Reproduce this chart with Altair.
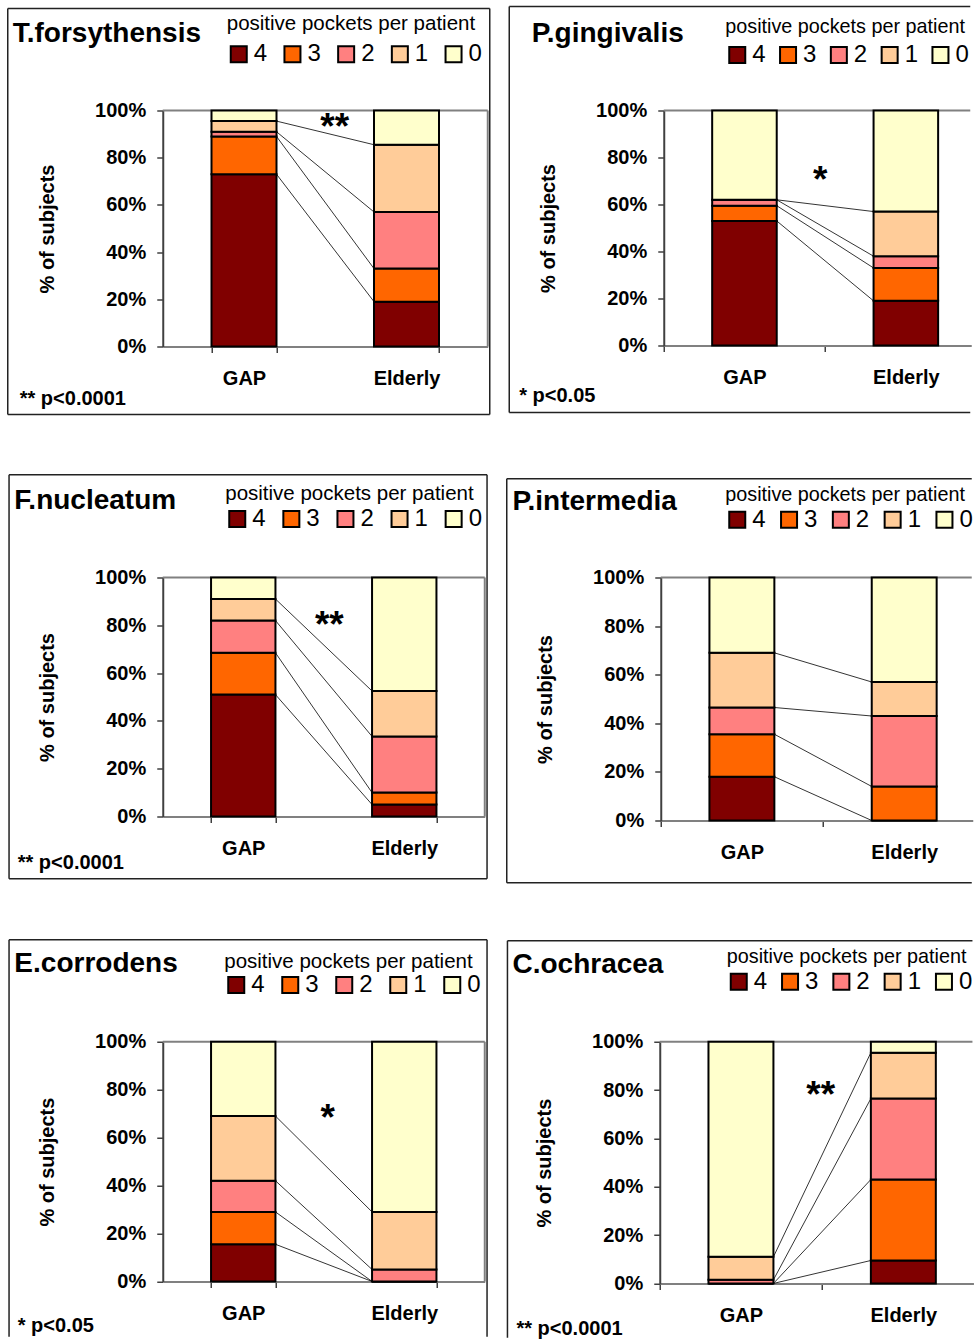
import altair as alt
import pandas as pd

# ---------------- data ----------------
panels = ["T.forsythensis", "P.gingivalis", "F.nucleatum", "P.intermedia", "E.corrodens", "C.ochracea"]
groups = ["GAP", "Elderly"]
pockets = ["4", "3", "2", "1", "0"]
colors = ["#800000", "#FF6600", "#FF8080", "#FFCC99", "#FFFFCC"]

# % of subjects with 4,3,2,1,0 positive pockets
gap_tf = [73, 16, 2, 4.5, 4.5]
eld_tf = [19, 14, 24, 28.5, 14.5]
gap_pg = [53, 6.5, 2.5, 0, 38]
eld_pg = [19, 14, 5, 19, 43]
gap_fn = [51, 17.5, 13.5, 9, 9]
eld_fn = [5, 5, 23.5, 19, 47.5]
gap_pi = [18, 17.5, 11, 22.5, 31]
eld_pi = [0, 14, 29, 14, 43]
gap_ec = [15.5, 13.5, 13, 27, 31]
eld_ec = [0, 0, 5, 24, 71]
gap_co = [0, 0, 1.5, 9.5, 89]
eld_co = [9.5, 33.5, 33.5, 19, 4.5]

gap_all = [gap_tf, gap_pg, gap_fn, gap_pi, gap_ec, gap_co]
eld_all = [eld_tf, eld_pg, eld_fn, eld_pi, eld_ec, eld_co]

stars = ["**", "*", "**", "", "*", "**"]
notes = ["** p<0.0001", "* p<0.05", "** p<0.0001", "", "* p<0.05", "** p<0.0001"]
y_ticks = [0, 20, 40, 60, 80, 100]

# ---------------- layout (pixels, relative to each plot area) ----------------
# right column panels are cut off by the page edge, as in the original figure
PAGE_R = 972.0
PAGE_B = 1336.0
geom = [
    dict(col=0, W=325, step=162.5, H=236, bl=-155, bt=-102, br=327, bb=304, tx=-150, ty=-69,
         lx=64.0, lt=-79.7, ls=-55.7, lf=20.5, cp=12.7, nx=-143, ny=294, sx=172, sy=12.5),
    dict(col=1, ox=664.5, step=161.4, H=235, bl=-154.5, bt=-104, bb=302, tx=-132, ty=-69,
         lx=61.5, lt=-77, ls=-54.3, lf=19.8, cp=9.8, nx=-144.5, ny=291, sx=156.5, sy=65.7),
    dict(col=0, W=322, step=161, H=239, bl=-153.7, bt=-102.7, br=324.3, bb=301.3, tx=-148.4, ty=-68.4,
         lx=62.5, lt=-76.7, ls=-58, lf=20.5, cp=13.1, nx=-145, ny=291.6, sx=166.6, sy=43.3),
    dict(col=1, ox=660, step=162.3, H=243, bl=-154, bt=-98.7, bb=305.3, tx=-148.3, ty=-67.7,
         lx=64.5, lt=-76, ls=-56.5, lf=19.8, cp=10.8, nx=-145, ny=291, sx=160, sy=40),
    dict(col=0, W=322, step=161, H=239.7, bl=-153.7, bt=-102, br=324.3, bb=None, oy=1041,
         tx=-148.4, ty=-69.3, lx=61.5, lt=-72.7, ls=-56.5, lf=20.5, cp=13.0,
         nx=-145, ny=290.7, sx=165, sy=72.3),
    dict(col=1, ox=658.3, step=162.4, H=241.7, bl=-152.3, bt=-101, bb=None, oy=1040,
         tx=-147.3, ty=-69, lx=67.0, lt=-78.3, ls=-58.8, lf=19.8, cp=10.3,
         nx=-143.3, ny=293.3, sx=161, sy=49),
]

FONT = "Liberation Sans"
FRAME = "#222222"
PLOTBORDER = "#808080"


def rule(one, x1, x2, y1, y2, color, width):
    return alt.Chart(one).mark_rule(color=color, strokeWidth=width).encode(
        x=alt.value(x1), x2=alt.value(x2), y=alt.value(y1), y2=alt.value(y2)
    )


def panel(i):
    g = geom[i]
    H = g["H"]
    s = g["step"]
    if g["col"] == 0:
        W = g["W"]
        xscale = alt.Scale(domain=groups, paddingInner=0.6, paddingOuter=0.3)
        tick_kw = dict(tickBand="extent")
        right_end = g["br"]
    else:
        W = PAGE_R - g["ox"]
        po = (W / s - 1.4) / 2
        al = 0.3 * s / (W - 1.4 * s)
        xscale = alt.Scale(domain=groups, paddingInner=0.6, paddingOuter=po, align=al)
        tick_kw = dict(tickOffset=-s / 2, labelOffset=s / 2)
        right_end = W - 1

    rows = []
    for grp, vals in zip(groups, [gap_all[i], eld_all[i]]):
        cum = 0.0
        for k, v in zip(pockets, vals):
            rows.append({"group": grp, "pocket": k, "lo": cum, "hi": cum + v})
            cum += v
    bars_df = pd.DataFrame(rows)

    lines = []
    cg, ce = 0.0, 0.0
    for j, k in enumerate(pockets[:-1]):
        cg += gap_all[i][j]
        ce += eld_all[i][j]
        lines.append({"pocket": k, "from": "GAP", "to": "Elderly", "yg": cg, "ye": ce})
    lines_df = pd.DataFrame(lines)

    yscale = alt.Scale(domain=[0, 100], nice=False)

    x_axis = alt.Axis(
        title=None, labelFontSize=20, labelFontWeight="bold", labelAngle=0, labelColor="black",
        labelFont=FONT, tickSize=6, tickColor="#404040", tickWidth=1.5,
        domainColor=PLOTBORDER, domainWidth=2, labelBaseline="alphabetic", labelPadding=32,
        grid=False, **tick_kw,
    )
    y_axis = alt.Axis(
        title="% of subjects",
        values=y_ticks, labelExpr="datum.value + '%'", labelFontSize=20,
        labelFontWeight="bold", labelColor="black", labelFont=FONT,
        titleFontSize=20, titleFontWeight="bold", titleColor="black", titleFont=FONT,
        titleX=-115, titleY=H / 2, titleAlign="center", titleBaseline="middle",
        titleAngle=270, tickSize=6, labelPadding=11, tickColor="#404040", tickWidth=1.5,
        domainColor="#404040", domainWidth=2, grid=False,
    )

    one = pd.DataFrame({"t": [panels[i]]})

    # frame around the whole panel
    bottom = g["bb"] if g["bb"] is not None else PAGE_B - g["oy"]
    frame = [
        rule(one, g["bl"], g["bl"], g["bt"], bottom, FRAME, 1.5),
        rule(one, g["bl"], right_end, g["bt"], g["bt"], FRAME, 1.5),
    ]
    if g["bb"] is not None:
        frame.append(rule(one, g["bl"], right_end, g["bb"], g["bb"], FRAME, 1.5))
    if g["col"] == 0:
        frame.append(rule(one, g["br"], g["br"], g["bt"], bottom, FRAME, 1.5))
    # grey plot-area border (top, and right where visible)
    frame.append(rule(one, 0, W - (1 if g["col"] else 0), 0, 0, PLOTBORDER, 2))
    if g["col"] == 0:
        frame.append(rule(one, W, W, 0, H, PLOTBORDER, 2))

    title = alt.Chart(one).mark_text(
        align="left", baseline="alphabetic", fontSize=28, fontWeight="bold", font=FONT, color="black"
    ).encode(x=alt.value(g["tx"]), y=alt.value(g["ty"]), text="t:N")

    conn = alt.Chart(lines_df).mark_rule(color="black", strokeWidth=0.8).encode(
        x=alt.X("from:N", scale=xscale, sort=groups, bandPosition=1, axis=x_axis),
        x2=alt.X2("to:N", bandPosition=0),
        y=alt.Y("yg:Q", scale=yscale, axis=y_axis),
        y2="ye:Q",
    )

    leg_y = g["lt"] - 16.6
    tpad = max(g["ls"] - leg_y - 33, 0)

    bars = alt.Chart(bars_df).mark_bar(stroke="black", strokeWidth=2).encode(
        x=alt.X("group:N", scale=xscale, sort=groups, axis=x_axis),
        y=alt.Y("lo:Q", scale=yscale, axis=y_axis),
        y2="hi:Q",
        color=alt.Color(
            "pocket:N", scale=alt.Scale(domain=pockets, range=colors), sort=pockets,
            legend=alt.Legend(
                orient="none", legendX=g["lx"], legendY=leg_y, direction="horizontal",
                title="positive pockets per patient", titleFontSize=g["lf"], titleFontWeight="normal",
                titleColor="black", titleFont=FONT, titleLimit=400, titlePadding=tpad,
                labelFontSize=24, labelColor="black", labelFont=FONT, symbolType="square",
                symbolSize=256, symbolStrokeColor="black", symbolStrokeWidth=2, symbolOpacity=1,
                labelOffset=3, columnPadding=g["cp"], padding=0,
            ),
        ),
    )

    layers = frame + [title, conn, bars]
    if stars[i]:
        sdf = pd.DataFrame({"t": [stars[i]]})
        layers.append(
            alt.Chart(sdf).mark_text(
                align="center", baseline="middle", fontSize=37, fontWeight="bold", font=FONT,
                color="black", dy=5,
            ).encode(x=alt.value(g["sx"]), y=alt.value(g["sy"]), text="t:N")
        )
    if notes[i]:
        ndf = pd.DataFrame({"t": [notes[i]]})
        layers.append(
            alt.Chart(ndf).mark_text(
                align="left", baseline="alphabetic", fontSize=20, fontWeight="bold", font=FONT,
                color="black",
            ).encode(x=alt.value(g["nx"]), y=alt.value(g["ny"]), text="t:N")
        )
    return alt.layer(*layers).properties(width=W, height=H)


def row(r):
    return alt.hconcat(panel(2 * r), panel(2 * r + 1), spacing=17).resolve_scale(
        color="independent", x="independent", y="independent"
    ).resolve_legend(color="independent")


top_two = alt.vconcat(row(0), row(1), spacing=58).resolve_scale(
    color="independent", x="independent", y="independent"
).resolve_legend(color="independent")

chart = alt.vconcat(top_two, row(2), spacing=54.25).resolve_scale(
    color="independent", x="independent", y="independent"
).resolve_legend(color="independent").properties(
    padding={"left": 6.75, "top": 5.5, "right": 0, "bottom": 0}
).configure(font=FONT).configure_view(stroke="transparent", strokeWidth=0)

chart.save("out.html", embed_options={"renderer": "svg", "actions": False})
